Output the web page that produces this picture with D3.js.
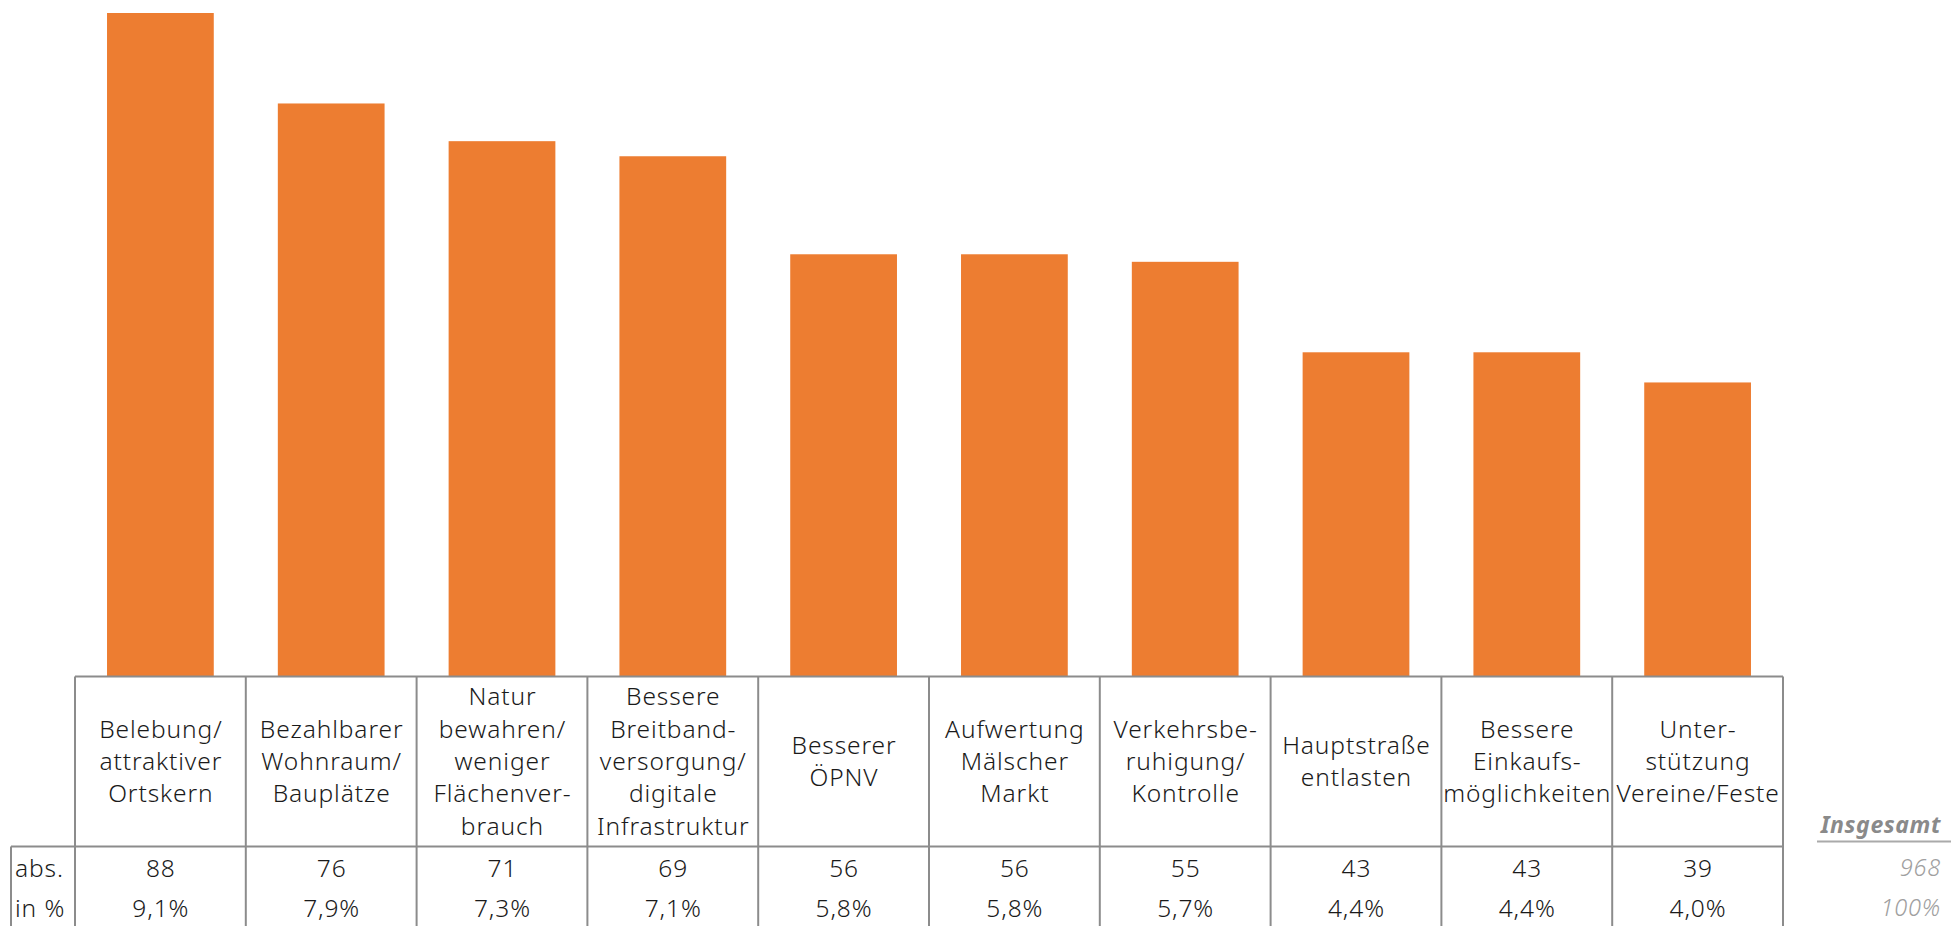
<!DOCTYPE html>
<html><head><meta charset="utf-8">
<script src="https://cdn.jsdelivr.net/npm/d3@7"></script>
<style>
html,body{margin:0;padding:0;background:#fff;}
svg{display:block;}
text{font-family:"Noto Sans","Lato",sans-serif;font-weight:300;}
</style></head>
<body><svg id="chart" width="1951" height="926"></svg>
<script>
const categories = [
  "Belebung/\nattraktiver\nOrtskern",
  "Bezahlbarer\nWohnraum/\nBauplätze",
  "Natur\nbewahren/\nweniger\nFlächenver-\nbrauch",
  "Bessere\nBreitband-\nversorgung/\ndigitale\nInfrastruktur",
  "Besserer\nÖPNV",
  "Aufwertung\nMälscher\nMarkt",
  "Verkehrsbe-\nruhigung/\nKontrolle",
  "Hauptstraße\nentlasten",
  "Bessere\nEinkaufs-\nmöglichkeiten",
  "Unter-\nstützung\nVereine/Feste"
];
const absValues = [88, 76, 71, 69, 56, 56, 55, 43, 43, 39];
const pctLabels = ["9,1%", "7,9%", "7,3%", "7,1%", "5,8%", "5,8%", "5,7%", "4,4%", "4,4%", "4,0%"];
const rowLabels = ["abs.", "in %"];
const totalTitle = "Insgesamt";
const totalAbs = "968";
const totalPct = "100%";

const svg = d3.select("#chart");
const tableLeft = 75, tableRight = 1783, labelLeft = 11;
const headerTop = 676.5, dataTop = 846.5, H = 926;
const barColor = "#ED7D31", lineColor = "#8c8c8c";

const x = d3.scaleBand().domain(d3.range(categories.length))
  .range([tableLeft, tableRight]).paddingInner(0.375).paddingOuter(0.1875);
const y = d3.scaleLinear().domain([0, 88]).range([headerTop, 13]);
const step = x.step();
const colLeft = i => x(i) - x.paddingInner() * step / 2;

// bars
svg.append("g").selectAll("rect").data(absValues).join("rect")
  .attr("x", (d, i) => x(i)).attr("width", x.bandwidth())
  .attr("y", d => y(d)).attr("height", d => y(0) - y(d))
  .attr("fill", barColor);

// table lines
const g = svg.append("g").attr("stroke", lineColor).attr("stroke-width", 2).attr("fill", "none");
g.append("line").attr("x1", tableLeft).attr("x2", tableRight).attr("y1", headerTop).attr("y2", headerTop);
g.append("line").attr("x1", labelLeft).attr("x2", tableRight).attr("y1", dataTop).attr("y2", dataTop);
g.append("line").attr("x1", labelLeft).attr("x2", labelLeft).attr("y1", dataTop).attr("y2", H);
d3.range(categories.length + 1).forEach(i => {
  const xx = i < categories.length ? colLeft(i) : tableRight;
  g.append("line").attr("x1", xx).attr("x2", xx).attr("y1", headerTop).attr("y2", H);
});

// header labels
const lh = 32.3, fs = 24.5, ls = 0.9;
const hdr = svg.append("g").attr("font-size", fs).attr("letter-spacing", ls).attr("fill", "#1a1a1a").attr("text-anchor", "middle");
categories.forEach((c, i) => {
  const lines = c.split("\n");
  const cx = x(i) + x.bandwidth() / 2 + ls / 2;
  const cy = (headerTop + dataTop) / 2;
  const t = hdr.append("text").attr("x", cx);
  lines.forEach((l, j) => {
    t.append("tspan").attr("x", cx)
      .attr("y", cy + (j - (lines.length - 1) / 2) * lh)
      .attr("dy", "0.35em").text(l);
  });
});

// data rows
const rowY = [868, 908];
const dg = svg.append("g").attr("font-size", fs).attr("letter-spacing", ls).attr("fill", "#1a1a1a");
rowLabels.forEach((r, k) => {
  dg.append("text").attr("x", 15).attr("y", rowY[k]).attr("dy", "0.35em").text(r);
});
absValues.forEach((v, i) => {
  const cx = x(i) + x.bandwidth() / 2 + ls / 2;
  dg.append("text").attr("x", cx).attr("y", rowY[0]).attr("dy", "0.35em").attr("text-anchor", "middle").text(v);
  dg.append("text").attr("x", cx).attr("y", rowY[1]).attr("dy", "0.35em").attr("text-anchor", "middle").text(pctLabels[i]);
});

// total column
const tx = 1941;
svg.append("text").attr("x", tx).attr("y", 825).attr("dy", "0.35em").attr("text-anchor", "end")
  .attr("font-size", 23).attr("letter-spacing", 0.6).style("font-weight", "bold").attr("font-style", "italic").attr("fill", "#8a8a8a").text(totalTitle);
svg.append("line").attr("x1", 1817).attr("x2", 1951).attr("y1", 841.5).attr("y2", 841.5)
  .attr("stroke", "#aaa").attr("stroke-width", 2);
svg.append("text").attr("x", tx).attr("y", rowY[0]).attr("dy", "0.35em").attr("text-anchor", "end")
  .attr("font-size", 23.5).attr("letter-spacing", 0.8).attr("font-style", "italic").attr("fill", "#a0a0a0").text(totalAbs);
svg.append("text").attr("x", tx).attr("y", rowY[1]).attr("dy", "0.35em").attr("text-anchor", "end")
  .attr("font-size", 23.5).attr("letter-spacing", 0.8).attr("font-style", "italic").attr("fill", "#a0a0a0").text(totalPct);
</script></body></html>
